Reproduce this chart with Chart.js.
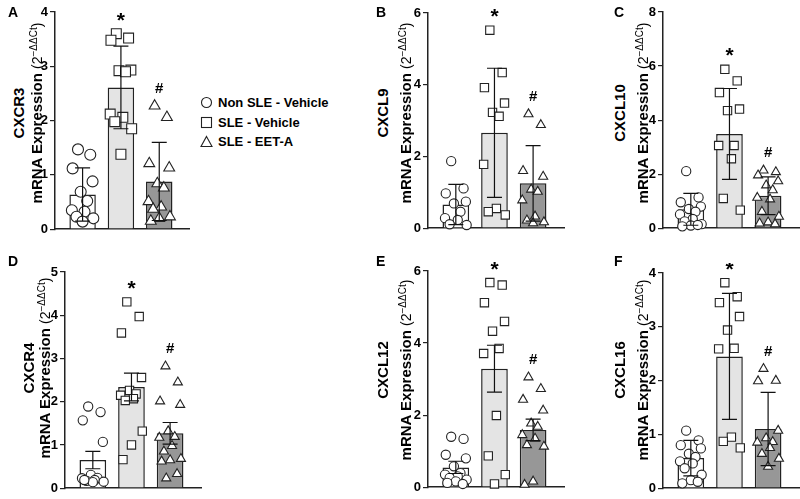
<!DOCTYPE html>
<html>
<head>
<meta charset="utf-8">
<script src="https://cdn.jsdelivr.net/npm/chart.js@4/dist/chart.umd.min.js"></script>
<style>
  html, body { margin: 0; padding: 0; background: #fff; }
  body { width: 800px; height: 499px; position: relative; overflow: hidden;
         font-family: "Liberation Sans", Arial, sans-serif; color: #000; }
  canvas { position: absolute; }
  .lbl { position: absolute; font-weight: bold; font-size: 15px; white-space: nowrap;
         transform: translate(-50%, -50%) rotate(-90deg); }
  .lbl span { font-weight: normal; font-size: 14px; }
  .lbl sup { font-size: 10px; }
  .letter { position: absolute; font-weight: bold; font-size: 14px; }
  .legend { position: absolute; left: 200px; top: 93px; font-weight: bold; font-size: 13px; }
  .legend div { height: 19.5px; display: flex; align-items: center; }
  .legend svg { margin-right: 5px; }
</style>
</head>
<body>
<div class="legend">
  <div><svg width="13" height="13"><circle cx="6.5" cy="6.5" r="5" fill="#fff" stroke="#222" stroke-width="1.1"/></svg>Non SLE - Vehicle</div>
  <div><svg width="13" height="13"><rect x="1.5" y="1.5" width="10" height="10" fill="#fff" stroke="#222" stroke-width="1.1"/></svg>SLE - Vehicle</div>
  <div><svg width="13" height="13"><polygon points="6.5,1.5 12,11.5 1,11.5" fill="#fff" stroke="#222" stroke-width="1.1"/></svg>SLE - EET-A</div>
</div>
<script>
const groups = ['Non SLE - Vehicle', 'SLE - Vehicle', 'SLE - EET-A'];
const genes = ['CXCR3', 'CXCL9', 'CXCL10', 'CXCR4', 'CXCL12', 'CXCL16'];
const letters = ['A', 'B', 'C', 'D', 'E', 'F'];
const yMax = [4, 6, 8, 5, 6, 4];
const yStep = [1, 2, 2, 1, 2, 1];
const marks = ['', '*', '#'];

// CXCR3 (mean ± SD)
const cxcr3Means = [0.64, 2.61, 0.88];
const cxcr3Err = [0.49, 0.76, 0.72];
const cxcr3Non = [1.47, 1.37, 1.12, 0.88, 0.69, 0.52, 0.35, 0.32, 0.23, 0.2, 0.14];
const cxcr3Veh = [3.6, 3.52, 3.48, 2.93, 2.92, 2.9, 2.12, 2.06, 1.98, 1.85, 1.38];
const cxcr3Eet = [2.27, 2.06, 1.21, 1.13, 0.84, 0.76, 0.51, 0.41, 0.37, 0.23, 0.2, 0.15];

// CXCL9
const cxcl9Means = [0.66, 2.66, 1.25];
const cxcl9Err = [0.56, 1.8, 1.05];
const cxcl9Non = [1.87, 1.11, 0.97, 0.74, 0.69, 0.46, 0.28, 0.23, 0.11, 0.09];
const cxcl9Veh = [5.52, 4.34, 3.92, 3.49, 3.23, 3.12, 1.78, 0.55, 0.46, 0.37];
const cxcl9Eet = [3.18, 2.88, 1.6, 1.44, 1.08, 1.02, 0.78, 0.33, 0.22, 0.17, 0.14];

// CXCL10
const cxcl10Means = [0.7, 3.49, 1.2];
const cxcl10Err = [0.59, 1.68, 0.7];
const cxcl10Non = [2.11, 1.14, 0.96, 0.8, 0.71, 0.61, 0.51, 0.34, 0.25, 0.15, 0.1, 0.07, 0.12];
const cxcl10Veh = [5.88, 5.45, 5.02, 4.41, 4.35, 3.06, 3.06, 2.57, 1.1, 0.67];
const cxcl10Eet = [2.14, 2.08, 1.96, 1.74, 1.59, 1.41, 1.13, 1.07, 0.61, 0.43, 0.22, 0.18, 0.15];

// CXCR4 (mean ± SEM)
const cxcr4Means = [0.65, 2.34, 1.27];
const cxcr4Err = [0.2, 0.32, 0.25];
const cxcr4Non = [1.89, 1.76, 1.57, 1.07, 0.31, 0.24, 0.23, 0.19, 0.17, 0.15, 0.14, 0.19];
const cxcr4Veh = [4.31, 3.97, 3.59, 2.56, 2.26, 2.18, 2.15, 2.07, 2.03, 1.32, 1.0, 0.66];
const cxcr4Eet = [2.82, 2.45, 2.01, 1.93, 1.32, 1.19, 1.17, 0.98, 0.85, 0.68, 0.65, 0.62, 0.33, 0.23];

// CXCL12
const cxcl12Means = [0.55, 3.29, 1.59];
const cxcl12Err = [0.17, 0.65, 0.3];
const cxcl12Non = [1.4, 1.34, 0.9, 0.8, 0.58, 0.39, 0.35, 0.3, 0.26, 0.21, 0.16, 0.12, 0.09];
const cxcl12Veh = [5.68, 5.61, 5.12, 4.6, 4.33, 3.85, 3.71, 1.99, 0.87, 0.35, 0.09];
const cxcl12Eet = [3.05, 2.73, 2.43, 2.13, 1.77, 1.68, 1.45, 1.35, 1.17, 1.13, 0.16, 0.07];

// CXCL16
const cxcl16Means = [0.56, 2.45, 1.1];
const cxcl16Err = [0.33, 1.17, 0.68];
const cxcl16Non = [1.07, 0.89, 0.8, 0.74, 0.64, 0.58, 0.5, 0.46, 0.37, 0.25, 0.15, 0.09, 0.12];
const cxcl16Veh = [3.82, 3.56, 3.45, 3.19, 2.94, 2.6, 2.59, 0.95, 0.87, 0.75];
const cxcl16Eet = [2.22, 2.0, 1.99, 1.07, 0.93, 0.86, 0.85, 0.75, 0.64, 0.55, 0.4];

const allMeans = [cxcr3Means, cxcl9Means, cxcl10Means, cxcr4Means, cxcl12Means, cxcl16Means];
const allErr = [cxcr3Err, cxcl9Err, cxcl10Err, cxcr4Err, cxcl12Err, cxcl16Err];
const allPoints = [
  [cxcr3Non, cxcr3Veh, cxcr3Eet],
  [cxcl9Non, cxcl9Veh, cxcl9Eet],
  [cxcl10Non, cxcl10Veh, cxcl10Eet],
  [cxcr4Non, cxcr4Veh, cxcr4Eet],
  [cxcl12Non, cxcl12Veh, cxcl12Eet],
  [cxcl16Non, cxcl16Veh, cxcl16Eet]
];

// layout: y-axis x, pixel of top tick, pixel of zero, label x's, label y
const panelPos = [
  { ax: 55,  top: 12,  zero: 231, geneX: 18,  mrnaX: 36,  labY: 113, letX: 8,   letY: 4 },
  { ax: 428, top: 13,  zero: 230, geneX: 382, mrnaX: 405, labY: 113, letX: 376, letY: 4 },
  { ax: 663, top: 12,  zero: 230, geneX: 619, mrnaX: 642, labY: 113, letX: 614, letY: 4 },
  { ax: 65,  top: 272, zero: 490, geneX: 28,  mrnaX: 44,  labY: 368, letX: 8,   letY: 253 },
  { ax: 428, top: 271, zero: 489, geneX: 382, mrnaX: 405, labY: 370, letX: 376, letY: 253 },
  { ax: 663, top: 273, zero: 490, geneX: 619, mrnaX: 642, labY: 370, letX: 614, letY: 253 }
];
const pointScale = [1.25, 1.05, 1.05, 1.05, 1.05, 1.05];
const jitter = [-0.12, 0.2, -0.26, 0.26, -0.05, 0.12, -0.28, 0.05, -0.16, 0.28, 0.0, -0.22, 0.18, -0.1];
const barColors = ['#ffffff', '#e4e4e4', '#979797'];
const pointStyles = ['circle', 'rect', 'triangle'];
const baseRadius = [4.4, 5.6, 5.0];

const errorBarPlugin = {
  id: 'errorBars',
  afterDatasetsDraw(chart, args, opts) {
    const { ctx, scales: { x, y } } = chart;
    ctx.save();
    ctx.strokeStyle = '#111';
    ctx.lineWidth = 1.2;
    opts.means.forEach((m, i) => {
      const px = x.getPixelForValue(i + 1);
      const top = y.getPixelForValue(m + opts.err[i]);
      const bot = y.getPixelForValue(Math.max(0, m - opts.err[i]));
      ctx.beginPath();
      ctx.moveTo(px, top); ctx.lineTo(px, bot);
      ctx.moveTo(px - 7.5, top); ctx.lineTo(px + 7.5, top);
      ctx.moveTo(px - 7.5, bot); ctx.lineTo(px + 7.5, bot);
      ctx.stroke();
    });
    ctx.fillStyle = '#000';
    ctx.textAlign = 'center';
    ctx.textBaseline = 'alphabetic';
    marks.forEach((mk, i) => {
      if (!mk) return;
      const px = x.getPixelForValue(i + 1);
      const top = y.getPixelForValue(Math.max(...opts.points[i]));
      if (mk === '*') {
        ctx.font = 'bold 21px "Liberation Sans", Arial, sans-serif';
        ctx.fillText(mk, px, top - 7);
      } else {
        ctx.font = 'bold 15px "Liberation Sans", Arial, sans-serif';
        ctx.fillText(mk, px, top - 13);
      }
    });
    ctx.restore();
  }
};

const AXW = 28, XLEN = 137;

genes.forEach((gene, p) => {
  const pos = panelPos[p];
  const canvas = document.createElement('canvas');
  const h = (pos.zero - pos.top) + 18;
  canvas.width = AXW + XLEN + 6;
  canvas.height = h;
  canvas.style.left = (pos.ax - AXW) + 'px';
  canvas.style.top = (pos.top - 10) + 'px';
  document.body.appendChild(canvas);

  const geneDiv = document.createElement('div');
  geneDiv.className = 'lbl';
  geneDiv.style.left = pos.geneX + 'px';
  geneDiv.style.top = pos.labY + 'px';
  geneDiv.textContent = gene;
  document.body.appendChild(geneDiv);

  const mrnaDiv = document.createElement('div');
  mrnaDiv.className = 'lbl';
  mrnaDiv.style.left = pos.mrnaX + 'px';
  mrnaDiv.style.top = pos.labY + 'px';
  mrnaDiv.innerHTML = 'mRNA Expression <span>(2<sup>\u2212\u0394\u0394Ct</sup>)</span>';
  document.body.appendChild(mrnaDiv);

  const letter = document.createElement('div');
  letter.className = 'letter';
  letter.style.left = pos.letX + 'px';
  letter.style.top = pos.letY + 'px';
  letter.textContent = letters[p];
  document.body.appendChild(letter);

  const means = allMeans[p];
  const pts = allPoints[p];

  const datasets = [{
    type: 'bar',
    label: 'mean',
    data: means.map((m, i) => ({ x: i + 1, y: m })),
    backgroundColor: barColors,
    borderColor: '#222',
    borderWidth: 1.5,
    barPercentage: 0.69,
    categoryPercentage: 1,
    order: 10
  }];
  pts.forEach((vals, g) => {
    datasets.push({
      type: 'scatter',
      label: groups[g],
      data: vals.map((v, k) => ({ x: g + 1 + jitter[k % jitter.length], y: v })),
      pointStyle: pointStyles[g],
      pointRadius: baseRadius[g] * pointScale[p],
      pointBackgroundColor: '#fff',
      pointBorderColor: '#222',
      pointBorderWidth: 1.1,
      clip: false,
      order: 1
    });
  });

  new Chart(canvas, {
    type: 'bar',
    data: { datasets },
    plugins: [errorBarPlugin],
    options: {
      responsive: false,
      animation: false,
      layout: { padding: { top: 10, bottom: 8, left: 0, right: 6 } },
      plugins: {
        legend: { display: false },
        tooltip: { enabled: false },
        errorBars: { means, err: allErr[p], points: pts }
      },
      scales: {
        x: {
          type: 'linear',
          min: 0.28,
          max: 3.8,
          offset: false,
          ticks: { display: false },
          grid: { display: false, offset: false },
          border: { display: true, color: '#222', width: 1.5 },
          afterFit: (axis) => { axis.height = 0; }
        },
        y: {
          min: 0,
          max: yMax[p],
          ticks: {
            stepSize: yStep[p],
            color: '#000',
            padding: 2,
            font: { family: '"Liberation Sans", Arial, sans-serif', size: 13, weight: 'bold' }
          },
          grid: { display: true, drawOnChartArea: false, drawTicks: true, tickLength: 5, color: '#222', lineWidth: 1.2 },
          border: { display: true, color: '#222', width: 1.5 },
          afterFit: (axis) => { axis.width = AXW; }
        }
      }
    }
  });
});
</script>
</body>
</html>
